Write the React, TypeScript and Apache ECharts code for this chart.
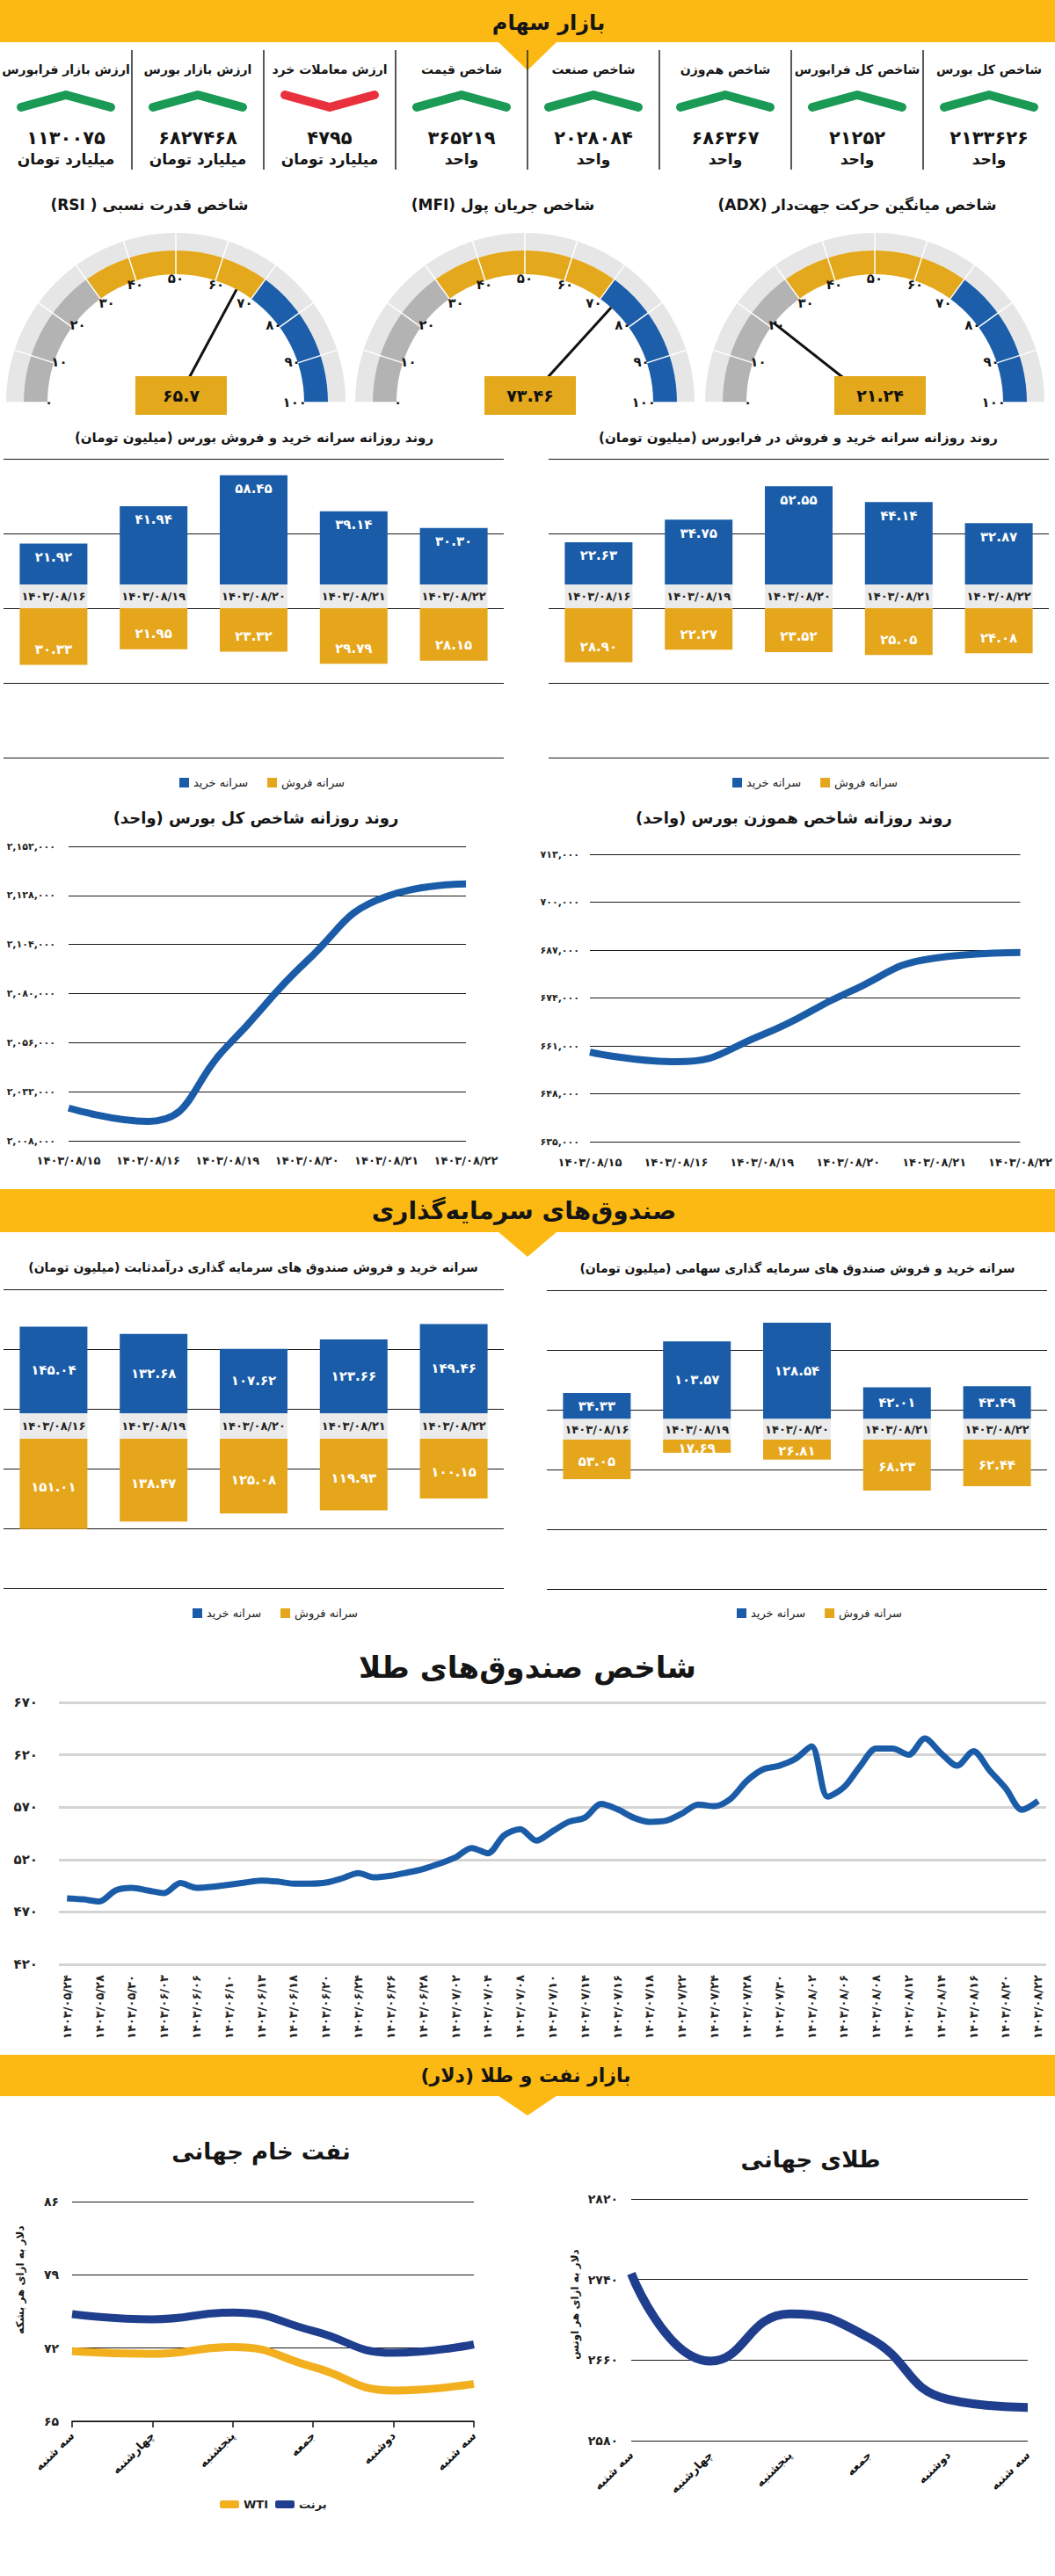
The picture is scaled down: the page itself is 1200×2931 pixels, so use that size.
import React, { useEffect, useRef } from 'react';
import * as echarts from 'echarts';

const FA = '"DejaVu Sans", sans-serif';
const FA_DIGITS = '۰۱۲۳۴۵۶۷۸۹';
const fa = (v: string | number) => String(v).replace(/[0-9]/g, (d) => FA_DIGITS[Number(d)]);
const faComma = (v: number) => fa(Number(v).toLocaleString('en-US'));
const rtl = (s: string) => '\u202B' + s + '\u202C';

// ---------------- data ----------------
const tickerLabels = ['شاخص کل بورس', 'شاخص کل فرابورس', 'شاخص هم‌وزن', 'شاخص صنعت', 'شاخص قیمت', 'ارزش معاملات خرد', 'ارزش بازار بورس', 'ارزش بازار فرابورس'];
const tickerValues = [2133626, 21252, 686367, 2028084, 365219, 4795, 6827468, 1130075];
const tickerUnits = ['واحد', 'واحد', 'واحد', 'واحد', 'واحد', 'میلیارد تومان', 'میلیارد تومان', 'میلیارد تومان'];
const tickerUp = [true, true, true, true, true, false, true, true];

const gaugeTitles = ['شاخص قدرت نسبی ( RSI)', 'شاخص جریان پول (MFI)', 'شاخص میانگین حرکت جهت‌دار (ADX)'];
const gaugeValues = [65.7, 73.46, 21.24];

const barDates = ['۱۴۰۳/۰۸/۱۶', '۱۴۰۳/۰۸/۱۹', '۱۴۰۳/۰۸/۲۰', '۱۴۰۳/۰۸/۲۱', '۱۴۰۳/۰۸/۲۲'];
const bourseBuy = [21.92, 41.94, 58.45, 39.14, 30.3];
const bourseSell = [30.33, 21.95, 23.32, 29.79, 28.15];
const fraBuy = [22.63, 34.75, 52.55, 44.14, 32.87];
const fraSell = [28.9, 22.27, 23.52, 25.05, 24.08];
const fixedBuy = [145.04, 132.68, 107.62, 123.66, 149.46];
const fixedSell = [151.01, 138.47, 125.08, 119.93, 100.15];
const equityBuy = [34.33, 103.57, 128.54, 42.01, 43.49];
const equitySell = [53.05, 17.69, 26.81, 68.23, 62.44];

const lineDates = ['۱۴۰۳/۰۸/۱۵', '۱۴۰۳/۰۸/۱۶', '۱۴۰۳/۰۸/۱۹', '۱۴۰۳/۰۸/۲۰', '۱۴۰۳/۰۸/۲۱', '۱۴۰۳/۰۸/۲۲'];
const totalIndex = [2024000, 2017500, 2054400, 2096000, 2127500, 2133626];
const equalIndex = [659300, 656700, 664000, 675500, 684800, 686367];

const goldFundDates = ['۱۴۰۳/۰۵/۲۴', '۱۴۰۳/۰۵/۲۸', '۱۴۰۳/۰۵/۳۰', '۱۴۰۳/۰۶/۰۳', '۱۴۰۳/۰۶/۰۶', '۱۴۰۳/۰۶/۱۰', '۱۴۰۳/۰۶/۱۳', '۱۴۰۳/۰۶/۱۸', '۱۴۰۳/۰۶/۲۰', '۱۴۰۳/۰۶/۲۴', '۱۴۰۳/۰۶/۲۶', '۱۴۰۳/۰۶/۲۸', '۱۴۰۳/۰۷/۰۲', '۱۴۰۳/۰۷/۰۴', '۱۴۰۳/۰۷/۰۸', '۱۴۰۳/۰۷/۱۰', '۱۴۰۳/۰۷/۱۴', '۱۴۰۳/۰۷/۱۶', '۱۴۰۳/۰۷/۱۸', '۱۴۰۳/۰۷/۲۲', '۱۴۰۳/۰۷/۲۴', '۱۴۰۳/۰۷/۲۸', '۱۴۰۳/۰۷/۳۰', '۱۴۰۳/۰۸/۰۲', '۱۴۰۳/۰۸/۰۶', '۱۴۰۳/۰۸/۰۸', '۱۴۰۳/۰۸/۱۲', '۱۴۰۳/۰۸/۱۴', '۱۴۰۳/۰۸/۱۶', '۱۴۰۳/۰۸/۲۰', '۱۴۰۳/۰۸/۲۲'];
const goldFundValues = [483, 482, 480, 490.5, 493, 490.5, 488, 497.5, 493, 494, 496, 498, 500, 499, 497, 497, 498, 502, 507, 503, 504.5, 507.5, 511, 516, 522, 531, 526, 543, 549, 538, 547, 556, 560, 573, 568, 560, 556, 557, 564, 572.5, 571, 578, 595, 606, 609.5, 616, 628, 580, 589, 609, 626, 626, 620, 635.5, 621.5, 609.5, 623.5, 605, 588, 567.5, 576];

const weekDays = ['سه شنبه', 'چهارشنبه', 'پنجشنبه', 'جمعه', 'دوشنبه', 'سه شنبه'];
const brent = [75.25, 74.75, 75.4, 73.65, 71.55, 72.35];
const wti = [71.7, 71.45, 72.1, 70.2, 67.95, 68.58];
const goldWorld = [2746, 2659, 2706, 2682, 2621, 2613];

const oilTicks = { min: 65, max: 86, step: 7 };
const goldTicks = { min: 2580, max: 2820, step: 80 };
const goldFundTicks = { min: 420, max: 670, step: 50 };
const totalTicks = { min: 2008000, max: 2152000, step: 24000 };
const equalTicks = { min: 635000, max: 713000, step: 13000 };

// ---------------- option ----------------
const BLUE = '#1a5ca7';
const NAVY = '#1f3e8d';
const YEL = '#e6a61c';
const HEAD = '#fdb913';
const BAND = '#ebebeb';
const INK = '#151515';
const GREEN = '#1a9a55';
const RED = '#e8313c';

function buildOption() {
  const grids: any[] = [];
  const xAxes: any[] = [];
  const yAxes: any[] = [];
  const series: any[] = [];
  const legends: any[] = [];
  const graphics: any[] = [];

  const txt = (x: number, y: number, text: string, size: number, extra: any = {}) => ({
    type: 'text', x, y, silent: true,
    style: { text, fill: INK, fontSize: size, fontWeight: 'bold', fontFamily: FA, align: 'center', verticalAlign: 'middle', ...extra },
  });

  // section headers
  const headers = [
    { y: 0, h: 48, tab: 32, title: 'بازار سهام', tx: 624, ty: 26, fs: 24 },
    { y: 1353, h: 49, tab: 28, title: 'صندوق‌های سرمایه‌گذاری', tx: 596, ty: 1377, fs: 28 },
    { y: 2338, h: 47, tab: 22, title: 'بازار نفت و طلا (دلار)', tx: 598, ty: 2361, fs: 22 },
  ];
  headers.forEach((h) => {
    graphics.push({ type: 'rect', silent: true, shape: { x: 0, y: h.y, width: 1200, height: h.h }, style: { fill: HEAD } });
    graphics.push({ type: 'polygon', silent: true, shape: { points: [[566, h.y + h.h - 1], [634, h.y + h.h - 1], [600, h.y + h.h + h.tab]] }, style: { fill: HEAD } });
    graphics.push(txt(h.tx, h.ty, rtl(h.title), h.fs));
  });

  // top ticker panel
  tickerLabels.forEach((lab, i) => {
    const cx = 1125 - 150 * i;
    graphics.push(txt(cx, 79, lab, 14));
    const up = tickerUp[i];
    graphics.push({
      type: 'polyline', silent: true,
      shape: { points: up ? [[cx - 51, 122], [cx, 108], [cx + 51, 122]] : [[cx - 51, 108], [cx, 122], [cx + 51, 108]] },
      style: { stroke: up ? GREEN : RED, lineWidth: 10, lineCap: 'round', lineJoin: 'round' },
    });
    graphics.push(txt(cx, 157, fa(tickerValues[i]), 21));
    graphics.push(txt(cx, 181, tickerUnits[i], 17));
  });
  for (let k = 1; k < 8; k++) {
    graphics.push({ type: 'line', silent: true, shape: { x1: 150 * k, y1: 57, x2: 150 * k, y2: 193 }, style: { stroke: '#222', lineWidth: 1.5 } });
  }

  // gauges
  const gaugeCX = [200, 597, 995];
  const gaugeTitleX = [170, 572, 975];
  gaugeValues.forEach((val, k) => {
    const center = [gaugeCX[k], 458];
    const base = { type: 'gauge', center, startAngle: 180, endAngle: 0, min: 0, max: 100, splitNumber: 10, silent: true };
    const hidden = {
      splitLine: { show: false }, axisTick: { show: false }, axisLabel: { show: false },
      pointer: { show: false }, anchor: { show: false }, title: { show: false }, detail: { show: false }, progress: { show: false },
    };
    series.push({
      ...base, ...hidden, radius: 193, z: 1,
      axisLine: { lineStyle: { width: 20, color: [[1, '#e6e6e6']] } },
      data: [{ value: 0 }],
    });
    series.push({
      ...base, radius: 173, z: 2,
      axisLine: { lineStyle: { width: 27, color: [[0.3, '#b3b3b3'], [0.7, '#e3a81b'], [1, '#1c5ea9']] } },
      splitLine: { show: true, length: 47, distance: -47, lineStyle: { color: '#ffffff', width: 1.5 } },
      axisTick: { show: false },
      axisLabel: { show: true, distance: 24, color: INK, fontSize: 15, fontWeight: 'bold', fontFamily: FA, formatter: (v: number) => fa(v) },
      pointer: { show: true, icon: 'rect', length: 146, width: 3, itemStyle: { color: '#111' } },
      anchor: { show: false }, title: { show: false }, progress: { show: false }, detail: { show: false },
      data: [{ value: val }],
    });
    series.push({
      ...base, ...hidden, radius: 173, z: 5,
      axisLine: { show: false },
      detail: {
        show: true, valueAnimation: false, offsetCenter: [6, -8], formatter: (v: number) => fa(String(v)),
        color: '#111', fontSize: 19, fontWeight: 'bold', fontFamily: FA,
        backgroundColor: '#e3a81b', width: 84, height: 34, lineHeight: 34,
      },
      data: [{ value: val }],
    });
    graphics.push(txt(gaugeTitleX[k], 233, rtl(gaugeTitles[k]), 17));
  });

  // bar charts
  const addBarChart = (left: number, top: number, buy: number[], sell: number[], band: number, yMax: number, yStep: number,
    buyLabel: any, sellLabel: any, legendLeft: number, legendTop: number) => {
    const gi = grids.length;
    grids.push({ left, top, width: 569, height: 340 });
    xAxes.push({ gridIndex: gi, type: 'category', data: barDates, show: false });
    yAxes.push({
      gridIndex: gi, type: 'value', min: -yMax, max: yMax, interval: yStep,
      axisLine: { show: false }, axisTick: { show: false }, axisLabel: { show: false },
      splitLine: { show: true, lineStyle: { color: '#1a1a1a', width: 1.2 } },
    });
    const common = { type: 'bar', xAxisIndex: gi, yAxisIndex: gi, stack: 'st' + gi, barWidth: 77, silent: true };
    const lab = { show: true, fontWeight: 'bold', fontFamily: FA };
    series.push({
      ...common, name: 'band' + gi, data: barDates.map(() => band), itemStyle: { color: BAND },
      label: { ...lab, position: 'inside', formatter: (p: any) => p.name, color: '#222', fontSize: 13 },
    });
    series.push({
      ...common, name: 'سرانه خرید', data: buy, itemStyle: { color: BLUE },
      label: { ...lab, ...buyLabel, formatter: (p: any) => fa(Number(p.value).toFixed(2)), color: '#fff', fontSize: 15 },
    });
    series.push({
      ...common, name: 'سرانه فروش', data: sell.map((v) => -v), itemStyle: { color: YEL },
      label: { ...lab, ...sellLabel, formatter: (p: any) => fa(Math.abs(Number(p.value)).toFixed(2)), color: '#fff', fontSize: 15 },
    });
    legends.push({
      left: legendLeft, top: legendTop, data: ['سرانه خرید', 'سرانه فروش'], icon: 'rect', itemWidth: 11, itemHeight: 11, itemGap: 22,
      selectedMode: false, textStyle: { fontFamily: FA, fontSize: 13, color: '#222' },
    });
  };

  graphics.push(txt(289, 498, rtl('روند روزانه سرانه خرید و فروش بورس (میلیون تومان)'), 15));
  graphics.push(txt(908, 498, rtl('روند روزانه سرانه خرید و فروش در فرابورس (میلیون تومان)'), 15));
  addBarChart(4, 522, bourseBuy, bourseSell, 12.7, 80, 40, { position: 'insideTop', distance: 8 }, { position: 'insideBottom', distance: 10 }, 199, 879);
  addBarChart(624, 522, fraBuy, fraSell, 12.7, 80, 40, { position: 'insideTop', distance: 8 }, { position: 'insideBottom', distance: 10 }, 828, 879);

  // line charts: bourse indices
  const lineAxisX = (gi: number, data: string[], margin: number) => ({
    gridIndex: gi, type: 'category', boundaryGap: false, data,
    axisLine: { show: false }, axisTick: { show: false },
    axisLabel: { interval: 0, color: '#222', fontSize: 13, fontWeight: 'bold', fontFamily: FA, margin },
  });
  const lineAxisY = (gi: number, t: any, fmt: any, size: number, margin: number, gridColor = '#1a1a1a', gridWidth = 1.2) => ({
    gridIndex: gi, type: 'value', min: t.min, max: t.max, interval: t.step,
    axisLine: { show: false }, axisTick: { show: false },
    splitLine: { show: true, lineStyle: { color: gridColor, width: gridWidth } },
    axisLabel: { formatter: fmt, color: '#222', fontSize: size, fontWeight: 'bold', fontFamily: FA, margin },
  });

  graphics.push(txt(291, 930, rtl('روند روزانه شاخص کل بورس (واحد)'), 18));
  graphics.push(txt(903, 930, rtl('روند روزانه شاخص هموزن بورس (واحد)'), 18));
  let gi = grids.length;
  grids.push({ left: 78, top: 963, width: 452, height: 335 });
  xAxes.push(lineAxisX(gi, lineDates, 16));
  yAxes.push(lineAxisY(gi, totalTicks, faComma, 11, 15));
  series.push({ type: 'line', xAxisIndex: gi, yAxisIndex: gi, data: totalIndex, smooth: true, showSymbol: false, silent: true, lineStyle: { color: BLUE, width: 8 } });

  gi = grids.length;
  grids.push({ left: 671, top: 972, width: 493, height: 327 });
  xAxes.push(lineAxisX(gi, lineDates, 17));
  yAxes.push(lineAxisY(gi, equalTicks, faComma, 11, 12));
  series.push({ type: 'line', xAxisIndex: gi, yAxisIndex: gi, data: equalIndex, smooth: true, showSymbol: false, silent: true, lineStyle: { color: BLUE, width: 8 } });

  // fund bar charts
  graphics.push(txt(288, 1442, rtl('سرانه خرید و فروش صندوق های سرمایه گذاری درآمدثابت (میلیون تومان)'), 14));
  graphics.push(txt(907, 1443, rtl('سرانه خرید و فروش صندوق های سرمایه گذاری سهامی (میلیون تومان)'), 14));
  addBarChart(4, 1467, fixedBuy, fixedSell, 42.6, 250, 100, { position: 'inside' }, { position: 'inside', offset: [0, 4] }, 214, 1824);
  addBarChart(622, 1468, equityBuy, equitySell, 28, 200, 80, { position: 'inside' }, { position: 'inside', offset: [0, 2] }, 833, 1824);

  // gold fund index
  graphics.push(txt(600, 1897, 'شاخص صندوق‌های طلا', 34));
  gi = grids.length;
  grids.push({ left: 67, top: 1937, width: 1123, height: 298 });
  const goldFundCats: string[] = [];
  goldFundDates.forEach((d, i) => {
    goldFundCats.push(d);
    if (i < goldFundDates.length - 1) goldFundCats.push('');
  });
  xAxes.push({
    gridIndex: gi, type: 'category', boundaryGap: true, data: goldFundCats,
    axisLine: { show: false }, axisTick: { show: false },
    axisLabel: { interval: 0, rotate: 90, color: '#222', fontSize: 13, fontWeight: 'bold', fontFamily: FA, margin: 12 },
  });
  yAxes.push(lineAxisY(gi, goldFundTicks, (v: number) => fa(v), 15, 24, '#d4d4d4', 3));
  series.push({ type: 'line', xAxisIndex: gi, yAxisIndex: gi, data: goldFundValues, smooth: 0.3, showSymbol: false, silent: true, lineStyle: { color: BLUE, width: 7 } });

  // oil
  const endLabel = (arr: number[], offset: number[], fmt: (v: number) => string) =>
    arr.map((v, i) => (i === arr.length - 1
      ? { value: v, label: { show: true, position: 'top', offset, formatter: () => fmt(v), color: '#222', fontSize: 15, fontWeight: 'bold', fontFamily: FA } }
      : v));

  graphics.push(txt(297, 2448, 'نفت خام جهانی', 26));
  const oilName: any = txt(23, 2594, 'دلار به ازای هر بشکه', 12);
  oilName.rotation = Math.PI / 2;
  graphics.push(oilName);
  gi = grids.length;
  grids.push({ left: 82, top: 2505, width: 457, height: 250 });
  xAxes.push({
    gridIndex: gi, type: 'category', boundaryGap: false, data: weekDays,
    axisLine: { show: true, lineStyle: { color: '#111', width: 1.5 } },
    axisTick: { show: true, length: 7, lineStyle: { color: '#111', width: 1.5 } },
    axisLabel: { interval: 0, rotate: 45, color: '#111', fontSize: 13, fontWeight: 'bold', fontFamily: FA, margin: 14 },
  });
  yAxes.push(lineAxisY(gi, oilTicks, (v: number) => fa(v), 14, 15));
  series.push({ type: 'line', name: 'برنت', xAxisIndex: gi, yAxisIndex: gi, data: endLabel(brent, [-42, -12], (v) => fa(v.toFixed(2))), smooth: true, showSymbol: false, silent: true, itemStyle: { color: NAVY }, lineStyle: { color: NAVY, width: 9 } });
  series.push({ type: 'line', name: 'WTI', xAxisIndex: gi, yAxisIndex: gi, data: endLabel(wti, [-51, -2], (v) => fa(v.toFixed(2))), smooth: true, showSymbol: false, silent: true, itemStyle: { color: '#f2b01e' }, lineStyle: { color: '#f2b01e', width: 9 } });
  legends.push({
    left: 245, top: 2838, data: ['WTI', 'برنت'], icon: 'roundRect', itemWidth: 22, itemHeight: 9, itemGap: 8,
    selectedMode: false, textStyle: { fontFamily: FA, fontSize: 13, fontWeight: 'bold', color: '#222' },
  });

  // world gold
  graphics.push(txt(922, 2457, 'طلای جهانی', 26));
  const goldName: any = txt(654, 2622, 'دلار به ازای هر اونس', 12);
  goldName.rotation = Math.PI / 2;
  graphics.push(goldName);
  gi = grids.length;
  grids.push({ left: 718, top: 2502, width: 451, height: 275 });
  xAxes.push({
    gridIndex: gi, type: 'category', boundaryGap: false, data: weekDays,
    axisLine: { show: false }, axisTick: { show: false },
    axisLabel: { interval: 0, rotate: 45, color: '#111', fontSize: 13, fontWeight: 'bold', fontFamily: FA, margin: 14 },
  });
  yAxes.push(lineAxisY(gi, goldTicks, (v: number) => fa(v), 14, 15));
  series.push({ type: 'line', name: 'طلا', xAxisIndex: gi, yAxisIndex: gi, data: endLabel(goldWorld, [-39, -18], (v) => fa(v)), smooth: true, showSymbol: false, silent: true, lineStyle: { color: NAVY, width: 10 } });

  return {
    animation: false,
    backgroundColor: '#ffffff',
    textStyle: { fontFamily: FA },
    grid: grids,
    xAxis: xAxes,
    yAxis: yAxes,
    legend: legends,
    series,
    graphic: { elements: graphics },
  };
}

export default function App() {
  const ref = useRef<HTMLDivElement>(null);
  useEffect(() => {
    document.body.style.margin = '0';
    const chart = echarts.init(ref.current as HTMLDivElement, null, { renderer: 'svg', width: 1200, height: 2931 });
    chart.setOption(buildOption() as any);
    return () => chart.dispose();
  }, []);
  return <div ref={ref} style={{ width: 1200, height: 2931, background: '#fff' }} />;
}
